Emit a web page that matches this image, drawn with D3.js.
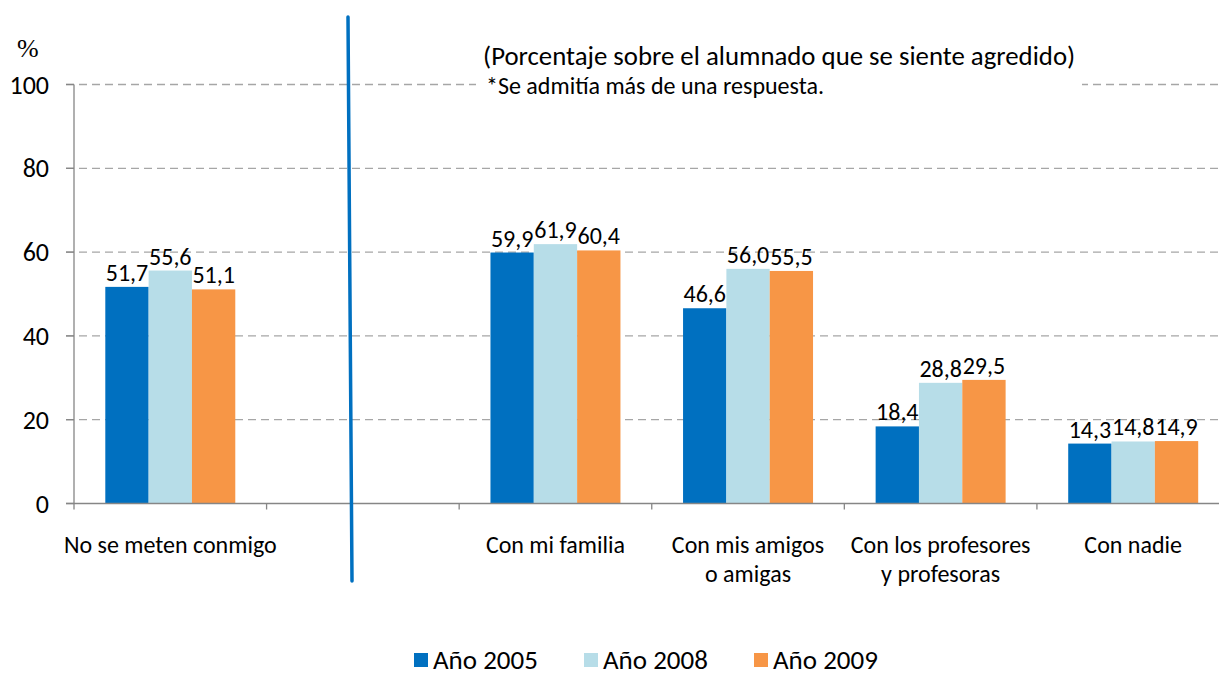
<!DOCTYPE html>
<html>
<head>
<meta charset="utf-8">
<script src="https://cdn.jsdelivr.net/npm/d3@7"></script>
<style>
  body { margin: 0; background: #fff; }
  svg { display: block; font-family: Carlito, Calibri, Lato, "Open Sans", sans-serif; }
</style>
</head>
<body>
<svg width="1219" height="675"></svg>
<script>
// categories (the empty one is the gap where the divider sits)
var categories = ["No se meten conmigo", "", "Con mi familia", "Con mis amigos|o amigas", "Con los profesores|y profesoras", "Con nadie"];
var seriesNames = ["Año 2005", "Año 2008", "Año 2009"];
var colors = ["#0070C0", "#B7DDE8", "#F79646"];

var y2005 = [51.7, null, 59.9, 46.6, 18.4, 14.3];
var y2008 = [55.6, null, 61.9, 56.0, 28.8, 14.8];
var y2009 = [51.1, null, 60.4, 55.5, 29.5, 14.9];
var yTicks = [0, 20, 40, 60, 80, 100];

var svg = d3.select('svg');
var allSeries = [y2005, y2008, y2009];

var x0 = d3.scaleBand().domain(d3.range(categories.length)).range([74, 1229.5]).padding(0);
var step = x0.step();
var x1 = d3.scaleBand().domain(d3.range(3)).range([31.3, step - 31.3]).padding(0);
var y = d3.scaleLinear().domain([0, 100]).range([503.5, 84.5]);

function fmt(v) { return v.toFixed(1).replace('.', ','); }

// grid lines
svg.append('g').selectAll('line')
  .data(yTicks.filter(function(d) { return d > 0; }))
  .join('line')
  .attr('x1', 66).attr('x2', 1219)
  .attr('y1', function(d) { return y(d); })
  .attr('y2', function(d) { return y(d); })
  .attr('stroke', '#A6A6A6')
  .attr('stroke-width', 1.3)
  .attr('stroke-dasharray', '8,5');

// y tick labels
svg.append('g').selectAll('text')
  .data(yTicks)
  .join('text')
  .attr('x', 49)
  .attr('y', function(d) { return y(d) + 9; })
  .attr('text-anchor', 'end')
  .attr('font-size', 26)
  .attr('fill', '#000')
  .text(function(d) { return d; });

svg.append('text').attr('x', 17).attr('y', 57).attr('font-size', 26)
  .attr('font-family', 'Liberation Serif, serif').text('%');

// title block (white background covers grid line)
svg.append('rect').attr('x', 476).attr('y', 38).attr('width', 606).attr('height', 64).attr('fill', '#fff');
svg.append('text').attr('x', 483).attr('y', 65).attr('font-size', 26.8)
  .text('(Porcentaje sobre el alumnado que se siente agredido)');
svg.append('text').attr('x', 486).attr('y', 94).attr('font-size', 24)
  .text('*Se admitía más de una respuesta.');

// bars
var groups = svg.append('g').selectAll('g')
  .data(categories)
  .join('g')
  .attr('transform', function(d, i) { return 'translate(' + x0(i) + ',0)'; });

groups.each(function(c, ci) {
  var g = d3.select(this);
  allSeries.forEach(function(s, si) {
    var v = s[ci];
    if (v == null) return;
    g.append('rect')
      .attr('x', x1(si))
      .attr('y', y(v))
      .attr('width', x1.bandwidth())
      .attr('height', y(0) - y(v))
      .attr('fill', colors[si]);
  });
  allSeries.forEach(function(s, si) {
    var v = s[ci];
    if (v == null) return;
    g.append('text')
      .attr('x', x1(si) + x1.bandwidth() / 2)
      .attr('y', y(v) - 6)
      .attr('text-anchor', 'middle')
      .attr('font-size', 24)
      .text(fmt(v));
  });
});

// axes
svg.append('line').attr('x1', 74).attr('x2', 74).attr('y1', y(100)).attr('y2', y(0))
  .attr('stroke', '#868686').attr('stroke-width', 1.3);
svg.append('g').selectAll('line')
  .data(yTicks)
  .join('line')
  .attr('x1', 66).attr('x2', 74)
  .attr('y1', function(d) { return y(d); })
  .attr('y2', function(d) { return y(d); })
  .attr('stroke', '#868686').attr('stroke-width', 1.3);
svg.append('line').attr('x1', 66).attr('x2', 1219).attr('y1', y(0)).attr('y2', y(0))
  .attr('stroke', '#868686').attr('stroke-width', 1.3);
svg.append('g').selectAll('line')
  .data(d3.range(categories.length + 1))
  .join('line')
  .attr('x1', function(i) { return 74 + i * step; })
  .attr('x2', function(i) { return 74 + i * step; })
  .attr('y1', y(0)).attr('y2', y(0) + 6)
  .attr('stroke', '#868686').attr('stroke-width', 1.3);

// category labels
groups.each(function(c, ci) {
  var lines = c.split('|');
  var t = d3.select(this).append('text')
    .attr('text-anchor', 'middle')
    .attr('font-size', 24);
  lines.forEach(function(l, li) {
    t.append('tspan').attr('x', step / 2).attr('y', 553 + li * 29).text(l);
  });
});

// divider
svg.append('line').attr('x1', 348).attr('y1', 17).attr('x2', 352).attr('y2', 581)
  .attr('stroke', '#0070C0').attr('stroke-width', 3.5).attr('stroke-linecap', 'round');

// legend
var legendX = [414, 584, 754];
var lg = svg.append('g').selectAll('g')
  .data(seriesNames)
  .join('g')
  .attr('transform', function(d, i) { return 'translate(' + legendX[i] + ',653)'; });
lg.append('rect').attr('width', 14).attr('height', 14).attr('fill', function(d, i) { return colors[i]; });
lg.append('text').attr('x', 19).attr('y', 15.5).attr('font-size', 27).text(function(d) { return d; });
</script>
</body>
</html>
